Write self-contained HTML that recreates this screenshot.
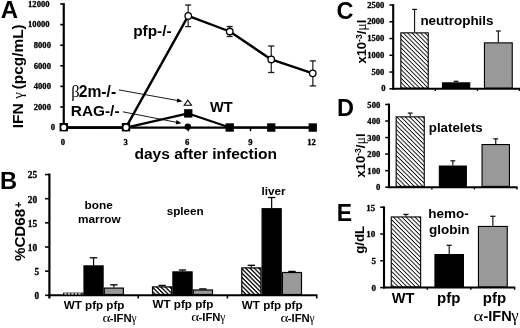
<!DOCTYPE html>
<html><head><meta charset="utf-8"><title>figure</title>
<style>
html,body{margin:0;padding:0;background:#fff;}
body{width:520px;height:328px;overflow:hidden;font-family:"Liberation Sans",sans-serif;}
svg{display:block;filter:blur(0.42px);}
</style></head><body>
<svg width="520" height="328" viewBox="0 0 520 328">
<defs>
<pattern id="hatch" patternUnits="userSpaceOnUse" width="3.05" height="3.05" patternTransform="rotate(45)">
<rect width="3.05" height="3.05" fill="#fff"/><rect width="3.05" height="0.88" fill="#000"/>
</pattern>
<pattern id="hatchB" patternUnits="userSpaceOnUse" width="3.05" height="3.05" patternTransform="rotate(45)">
<rect width="3.05" height="3.05" fill="#fff"/><rect width="3.05" height="1.3" fill="#000"/>
</pattern>
</defs>
<rect width="520" height="328" fill="#fff"/>

<text x="0.8" y="18.3" font-size="24" font-family="Liberation Sans, sans-serif" font-weight="bold" text-anchor="start" >A</text>
<line x1="63.75" y1="3.2" x2="63.75" y2="128.6" stroke="#000" stroke-width="2.2"/>
<line x1="62.65" y1="127.6" x2="316" y2="127.6" stroke="#000" stroke-width="2.1"/>
<line x1="60.25" y1="127.6" x2="63.75" y2="127.6" stroke="#000" stroke-width="1.6"/>
<text x="50.87" y="130.31" font-size="8.6" font-family="Liberation Serif, serif" font-weight="bold" textLength="4.30" lengthAdjust="spacingAndGlyphs" stroke="#000" stroke-width="0.3">0</text>
<line x1="60.25" y1="107.0" x2="63.75" y2="107.0" stroke="#000" stroke-width="1.6"/>
<text x="33.77" y="109.71" font-size="8.6" font-family="Liberation Serif, serif" font-weight="bold" textLength="17.20" lengthAdjust="spacingAndGlyphs" stroke="#000" stroke-width="0.3">2000</text>
<line x1="60.25" y1="86.39999999999999" x2="63.75" y2="86.39999999999999" stroke="#000" stroke-width="1.6"/>
<text x="33.77" y="89.11" font-size="8.6" font-family="Liberation Serif, serif" font-weight="bold" textLength="17.20" lengthAdjust="spacingAndGlyphs" stroke="#000" stroke-width="0.3">4000</text>
<line x1="60.25" y1="65.79999999999998" x2="63.75" y2="65.79999999999998" stroke="#000" stroke-width="1.6"/>
<text x="33.77" y="68.51" font-size="8.6" font-family="Liberation Serif, serif" font-weight="bold" textLength="17.20" lengthAdjust="spacingAndGlyphs" stroke="#000" stroke-width="0.3">6000</text>
<line x1="60.25" y1="45.19999999999999" x2="63.75" y2="45.19999999999999" stroke="#000" stroke-width="1.6"/>
<text x="33.77" y="47.91" font-size="8.6" font-family="Liberation Serif, serif" font-weight="bold" textLength="17.20" lengthAdjust="spacingAndGlyphs" stroke="#000" stroke-width="0.3">8000</text>
<line x1="60.25" y1="24.599999999999994" x2="63.75" y2="24.599999999999994" stroke="#000" stroke-width="1.6"/>
<text x="28.07" y="27.31" font-size="8.6" font-family="Liberation Serif, serif" font-weight="bold" textLength="21.50" lengthAdjust="spacingAndGlyphs" stroke="#000" stroke-width="0.3">10000</text>
<line x1="60.25" y1="3.999999999999986" x2="63.75" y2="3.999999999999986" stroke="#000" stroke-width="1.6"/>
<text x="28.07" y="6.71" font-size="8.6" font-family="Liberation Serif, serif" font-weight="bold" textLength="21.50" lengthAdjust="spacingAndGlyphs" stroke="#000" stroke-width="0.3">12000</text>
<line x1="126.0" y1="127.6" x2="126.0" y2="131.2" stroke="#000" stroke-width="1.5"/>
<line x1="188.25" y1="127.6" x2="188.25" y2="131.2" stroke="#000" stroke-width="1.5"/>
<line x1="250.5" y1="127.6" x2="250.5" y2="131.2" stroke="#000" stroke-width="1.5"/>
<line x1="312.75" y1="127.6" x2="312.75" y2="131.2" stroke="#000" stroke-width="1.5"/>
<text x="60.85" y="144.71" font-size="8.6" font-family="Liberation Serif, serif" font-weight="bold" textLength="4.30" lengthAdjust="spacingAndGlyphs" stroke="#000" stroke-width="0.3">0</text>
<text x="123.45" y="144.71" font-size="8.6" font-family="Liberation Serif, serif" font-weight="bold" textLength="4.30" lengthAdjust="spacingAndGlyphs" stroke="#000" stroke-width="0.3">3</text>
<text x="185.05" y="144.71" font-size="8.6" font-family="Liberation Serif, serif" font-weight="bold" textLength="4.30" lengthAdjust="spacingAndGlyphs" stroke="#000" stroke-width="0.3">6</text>
<text x="248.25" y="144.71" font-size="8.6" font-family="Liberation Serif, serif" font-weight="bold" textLength="4.30" lengthAdjust="spacingAndGlyphs" stroke="#000" stroke-width="0.3">9</text>
<text x="307.30" y="144.71" font-size="8.6" font-family="Liberation Serif, serif" font-weight="bold" textLength="8.60" lengthAdjust="spacingAndGlyphs" stroke="#000" stroke-width="0.3">12</text>
<text x="134.4" y="158.75" font-size="15.55" font-family="Liberation Sans, sans-serif" font-weight="bold" text-anchor="start" >days after infection</text>
<text transform="translate(23.4,128.3) rotate(-90)" font-size="15.5" font-family="Liberation Sans, sans-serif" font-weight="bold" text-anchor="start">IFN</text>
<text transform="translate(23.4,98.7) rotate(-90)" font-size="15" font-family="Liberation Serif, serif" font-weight="normal" text-anchor="start">&#947;</text>
<text transform="translate(23.4,24.3) rotate(-90)" font-size="15.4" font-family="Liberation Sans, sans-serif" font-weight="bold" text-anchor="end">(pcg/mL)</text>
<polyline fill="none" stroke="#000" stroke-width="2.4" stroke-linejoin="round" points="63.8,127.6 126.0,127.4 188.2,15.9 229.8,31.5 271.2,59.4 312.8,73.3"/>
<polyline fill="none" stroke="#000" stroke-width="2.15" stroke-linejoin="round" points="63.8,127.6 126.0,127.6 188.2,113.4 229.8,127.5 271.2,127.5 312.8,127.5"/>
<line x1="188.15" y1="5.0" x2="188.15" y2="26.6" stroke="#1a1a1a" stroke-width="1.2"/>
<line x1="185.15" y1="5.0" x2="191.15" y2="5.0" stroke="#1a1a1a" stroke-width="1.3"/>
<line x1="185.15" y1="26.6" x2="191.15" y2="26.6" stroke="#1a1a1a" stroke-width="1.3"/>
<line x1="229.65" y1="26.5" x2="229.65" y2="36.5" stroke="#1a1a1a" stroke-width="1.2"/>
<line x1="226.65" y1="26.5" x2="232.65" y2="26.5" stroke="#1a1a1a" stroke-width="1.3"/>
<line x1="226.65" y1="36.5" x2="232.65" y2="36.5" stroke="#1a1a1a" stroke-width="1.3"/>
<line x1="271.25" y1="46.0" x2="271.25" y2="72.5" stroke="#1a1a1a" stroke-width="1.2"/>
<line x1="268.15" y1="46.0" x2="274.35" y2="46.0" stroke="#1a1a1a" stroke-width="1.3"/>
<line x1="268.15" y1="72.5" x2="274.35" y2="72.5" stroke="#1a1a1a" stroke-width="1.3"/>
<line x1="312.85" y1="60.9" x2="312.85" y2="85.9" stroke="#1a1a1a" stroke-width="1.2"/>
<line x1="309.75" y1="60.9" x2="315.95000000000005" y2="60.9" stroke="#1a1a1a" stroke-width="1.3"/>
<line x1="309.75" y1="85.9" x2="315.95000000000005" y2="85.9" stroke="#1a1a1a" stroke-width="1.3"/>
<rect x="184.10" y="109.20" width="8.3" height="8.4" fill="#000"/>
<rect x="225.60" y="123.30" width="8.3" height="8.4" fill="#000"/>
<rect x="267.10" y="123.35" width="8.3" height="8.4" fill="#000"/>
<rect x="308.60" y="123.35" width="8.3" height="8.4" fill="#000"/>
<rect x="59.55" y="123.00" width="8.4" height="8.4" fill="#000"/>
<circle cx="63.75" cy="127.4" r="2.55" fill="#fff"/>
<rect x="121.80" y="123.00" width="8.4" height="8.4" fill="#000"/>
<circle cx="126.00" cy="127.4" r="2.55" fill="#fff"/>
<circle cx="188.25" cy="15.90" r="3.25" fill="#fff" stroke="#000" stroke-width="1.3"/>
<circle cx="229.75" cy="31.50" r="3.25" fill="#fff" stroke="#000" stroke-width="1.3"/>
<circle cx="271.25" cy="59.40" r="3.25" fill="#fff" stroke="#000" stroke-width="1.3"/>
<circle cx="312.75" cy="73.30" r="3.25" fill="#fff" stroke="#000" stroke-width="1.3"/>
<path d="M184.2,105.2 L191.5,105.2 L187.8,100.2 Z" fill="#fff" stroke="#000" stroke-width="1.1" stroke-linejoin="miter"/>
<circle cx="187.8" cy="126.7" r="3.2" fill="#000"/>
<line x1="118.8" y1="89.9" x2="178.07" y2="100.6" stroke="#000" stroke-width="0.9"/>
<path d="M182.50,101.40 L176.70,102.59 L177.48,98.26 Z" fill="#000"/>
<line x1="122.8" y1="111.8" x2="177.08" y2="122.43" stroke="#000" stroke-width="0.9"/>
<path d="M181.50,123.30 L175.68,124.40 L176.53,120.08 Z" fill="#000"/>
<text x="133.2" y="35.8" font-size="15.4" font-family="Liberation Sans, sans-serif" font-weight="bold" text-anchor="start" >pfp-/-</text>
<text x="71.3" y="97.4" font-size="16.5" font-family="Liberation Serif, serif" font-weight="normal" text-anchor="start" >&#946;</text>
<text x="78.7" y="97.4" font-size="15.7" font-family="Liberation Sans, sans-serif" font-weight="bold" text-anchor="start" >2m-/-</text>
<text x="70.8" y="115.7" font-size="15.4" font-family="Liberation Sans, sans-serif" font-weight="bold" text-anchor="start" >RAG-/-</text>
<text x="210" y="111.8" font-size="14.6" font-family="Liberation Sans, sans-serif" font-weight="bold" text-anchor="start" >WT</text>
<text x="0.0" y="189.0" font-size="23.7" font-family="Liberation Sans, sans-serif" font-weight="bold" text-anchor="start" >B</text>
<line x1="49.4" y1="173.6" x2="49.4" y2="298.5" stroke="#000" stroke-width="2.2"/>
<line x1="48.4" y1="295.3" x2="317.4" y2="295.3" stroke="#000" stroke-width="2.1"/>
<line x1="45.1" y1="295.3" x2="49.4" y2="295.3" stroke="#000" stroke-width="1.6"/>
<text x="34.44" y="299.24" font-size="9.3" font-family="Liberation Serif, serif" font-weight="bold" textLength="4.65" lengthAdjust="spacingAndGlyphs" stroke="#000" stroke-width="0.3">0</text>
<line x1="45.1" y1="271.15000000000003" x2="49.4" y2="271.15000000000003" stroke="#000" stroke-width="1.6"/>
<text x="34.44" y="275.09" font-size="9.3" font-family="Liberation Serif, serif" font-weight="bold" textLength="4.65" lengthAdjust="spacingAndGlyphs" stroke="#000" stroke-width="0.3">5</text>
<line x1="45.1" y1="247.0" x2="49.4" y2="247.0" stroke="#000" stroke-width="1.6"/>
<text x="27.89" y="250.94" font-size="9.3" font-family="Liberation Serif, serif" font-weight="bold" textLength="9.30" lengthAdjust="spacingAndGlyphs" stroke="#000" stroke-width="0.3">10</text>
<line x1="45.1" y1="222.85000000000002" x2="49.4" y2="222.85000000000002" stroke="#000" stroke-width="1.6"/>
<text x="27.89" y="226.79" font-size="9.3" font-family="Liberation Serif, serif" font-weight="bold" textLength="9.30" lengthAdjust="spacingAndGlyphs" stroke="#000" stroke-width="0.3">15</text>
<line x1="45.1" y1="198.70000000000002" x2="49.4" y2="198.70000000000002" stroke="#000" stroke-width="1.6"/>
<text x="27.89" y="202.64" font-size="9.3" font-family="Liberation Serif, serif" font-weight="bold" textLength="9.30" lengthAdjust="spacingAndGlyphs" stroke="#000" stroke-width="0.3">20</text>
<line x1="45.1" y1="174.55" x2="49.4" y2="174.55" stroke="#000" stroke-width="1.6"/>
<text x="27.89" y="178.49" font-size="9.3" font-family="Liberation Serif, serif" font-weight="bold" textLength="9.30" lengthAdjust="spacingAndGlyphs" stroke="#000" stroke-width="0.3">25</text>
<line x1="138.2" y1="295.3" x2="138.2" y2="298.5" stroke="#000" stroke-width="1.5"/>
<line x1="227.4" y1="295.3" x2="227.4" y2="298.5" stroke="#000" stroke-width="1.5"/>
<line x1="316.8" y1="295.3" x2="316.8" y2="298.5" stroke="#000" stroke-width="1.5"/>
<text transform="translate(24.7,261.1) rotate(-90)" font-size="15.2" font-family="Liberation Sans, sans-serif" font-weight="bold" text-anchor="start">%CD68<tspan dx="0.8" dy="-3" font-size="11">+</tspan></text>
<rect x="63.10" y="292.65" width="20.30" height="2.2" fill="#000"/>
<line x1="64.30" y1="293.85" x2="82.40" y2="293.85" stroke="#fff" stroke-width="1.1" stroke-dasharray="2.4 1.1"/>
<line x1="93.55000000000001" y1="257.8" x2="93.55000000000001" y2="265.3" stroke="#000" stroke-width="1.2"/>
<line x1="89.85000000000001" y1="257.8" x2="97.25000000000001" y2="257.8" stroke="#000" stroke-width="1.3"/>
<rect x="84.00" y="265.90" width="19.10" height="28.60" fill="#000" stroke="#000" stroke-width="1.2"/>
<line x1="113.85" y1="284.8" x2="113.85" y2="287.5" stroke="#000" stroke-width="1.2"/>
<line x1="110.14999999999999" y1="284.8" x2="117.55" y2="284.8" stroke="#000" stroke-width="1.3"/>
<rect x="104.30" y="288.10" width="19.10" height="6.40" fill="#999" stroke="#000" stroke-width="1.2"/>
<text x="63.7" y="308.7" font-size="11.65" font-family="Liberation Sans, sans-serif" font-weight="bold" text-anchor="start" >WT pfp pfp</text>
<text transform="translate(102.40,321.8) scale(1.22,1)" font-size="12.5" font-family="Liberation Serif, serif" font-weight="normal">&#945;</text>
<text x="109.7" y="321.8" font-size="11.3" font-family="Liberation Sans, sans-serif" font-weight="bold" text-anchor="start" >-IFN</text>
<text x="131.4" y="321.8" font-size="11.5" font-family="Liberation Serif, serif" font-weight="normal" text-anchor="start" >&#947;</text>
<line x1="162.10000000000002" y1="285.4" x2="162.10000000000002" y2="286.3" stroke="#000" stroke-width="1.2"/>
<line x1="158.40000000000003" y1="285.4" x2="165.8" y2="285.4" stroke="#000" stroke-width="1.3"/>
<rect x="152.50" y="286.90" width="19.20" height="7.60" fill="url(#hatchB)" stroke="#000" stroke-width="1.2"/>
<line x1="182.5" y1="270.0" x2="182.5" y2="271.3" stroke="#000" stroke-width="1.2"/>
<line x1="178.8" y1="270.0" x2="186.2" y2="270.0" stroke="#000" stroke-width="1.3"/>
<rect x="172.90" y="271.90" width="19.20" height="22.60" fill="#000" stroke="#000" stroke-width="1.2"/>
<line x1="202.89999999999998" y1="288.9" x2="202.89999999999998" y2="289.4" stroke="#000" stroke-width="1.2"/>
<line x1="199.2" y1="288.9" x2="206.59999999999997" y2="288.9" stroke="#000" stroke-width="1.3"/>
<rect x="193.30" y="290.00" width="19.20" height="4.50" fill="#999" stroke="#000" stroke-width="1.2"/>
<text x="152.5" y="307.6" font-size="11.65" font-family="Liberation Sans, sans-serif" font-weight="bold" text-anchor="start" >WT pfp pfp</text>
<text transform="translate(191.20,321.3) scale(1.22,1)" font-size="12.5" font-family="Liberation Serif, serif" font-weight="normal">&#945;</text>
<text x="198.5" y="321.3" font-size="11.3" font-family="Liberation Sans, sans-serif" font-weight="bold" text-anchor="start" >-IFN</text>
<text x="220.2" y="321.3" font-size="11.5" font-family="Liberation Serif, serif" font-weight="normal" text-anchor="start" >&#947;</text>
<line x1="251.35" y1="265.3" x2="251.35" y2="267.3" stroke="#000" stroke-width="1.2"/>
<line x1="247.65" y1="265.3" x2="255.04999999999998" y2="265.3" stroke="#000" stroke-width="1.3"/>
<rect x="241.80" y="267.90" width="19.10" height="26.60" fill="url(#hatchB)" stroke="#000" stroke-width="1.2"/>
<line x1="271.65" y1="197.5" x2="271.65" y2="208.1" stroke="#000" stroke-width="1.2"/>
<line x1="267.95" y1="197.5" x2="275.34999999999997" y2="197.5" stroke="#000" stroke-width="1.3"/>
<rect x="262.10" y="208.70" width="19.10" height="85.80" fill="#000" stroke="#000" stroke-width="1.2"/>
<line x1="291.95000000000005" y1="271.4" x2="291.95000000000005" y2="271.9" stroke="#000" stroke-width="1.2"/>
<line x1="288.25000000000006" y1="271.4" x2="295.65000000000003" y2="271.4" stroke="#000" stroke-width="1.3"/>
<rect x="282.40" y="272.50" width="19.10" height="22.00" fill="#999" stroke="#000" stroke-width="1.2"/>
<text x="241.79999999999998" y="308.5" font-size="11.65" font-family="Liberation Sans, sans-serif" font-weight="bold" text-anchor="start" >WT pfp pfp</text>
<text transform="translate(280.50,321.6) scale(1.22,1)" font-size="12.5" font-family="Liberation Serif, serif" font-weight="normal">&#945;</text>
<text x="287.8" y="321.6" font-size="11.3" font-family="Liberation Sans, sans-serif" font-weight="bold" text-anchor="start" >-IFN</text>
<text x="309.5" y="321.6" font-size="11.5" font-family="Liberation Serif, serif" font-weight="normal" text-anchor="start" >&#947;</text>
<text x="98.7" y="209.0" font-size="11.8" font-family="Liberation Sans, sans-serif" font-weight="bold" text-anchor="middle" >bone</text>
<text x="99.3" y="222.75" font-size="11.8" font-family="Liberation Sans, sans-serif" font-weight="bold" text-anchor="middle" >marrow</text>
<text x="185.2" y="215.0" font-size="11.7" font-family="Liberation Sans, sans-serif" font-weight="bold" text-anchor="middle" >spleen</text>
<text x="273.5" y="194.6" font-size="11.7" font-family="Liberation Sans, sans-serif" font-weight="bold" text-anchor="middle" >liver</text>
<text x="336.4" y="19.1" font-size="23.5" font-family="Liberation Sans, sans-serif" font-weight="bold" text-anchor="start" >C</text>
<line x1="393.2" y1="4.2" x2="393.2" y2="89.7" stroke="#000" stroke-width="2.1"/>
<line x1="392.3" y1="88.8" x2="520" y2="88.8" stroke="#000" stroke-width="2.0"/>
<line x1="389.4" y1="88.8" x2="393.2" y2="88.8" stroke="#000" stroke-width="1.5"/>
<text x="381.37" y="91.41" font-size="8.6" font-family="Liberation Serif, serif" font-weight="bold" textLength="4.30" lengthAdjust="spacingAndGlyphs" stroke="#000" stroke-width="0.3">0</text>
<line x1="389.4" y1="72.03999999999999" x2="393.2" y2="72.03999999999999" stroke="#000" stroke-width="1.5"/>
<text x="371.47" y="74.65" font-size="8.6" font-family="Liberation Serif, serif" font-weight="bold" textLength="12.90" lengthAdjust="spacingAndGlyphs" stroke="#000" stroke-width="0.3">500</text>
<line x1="389.4" y1="55.279999999999994" x2="393.2" y2="55.279999999999994" stroke="#000" stroke-width="1.5"/>
<text x="367.17" y="57.89" font-size="8.6" font-family="Liberation Serif, serif" font-weight="bold" textLength="17.20" lengthAdjust="spacingAndGlyphs" stroke="#000" stroke-width="0.3">1000</text>
<line x1="389.4" y1="38.519999999999996" x2="393.2" y2="38.519999999999996" stroke="#000" stroke-width="1.5"/>
<text x="367.17" y="41.13" font-size="8.6" font-family="Liberation Serif, serif" font-weight="bold" textLength="17.20" lengthAdjust="spacingAndGlyphs" stroke="#000" stroke-width="0.3">1500</text>
<line x1="389.4" y1="21.75999999999999" x2="393.2" y2="21.75999999999999" stroke="#000" stroke-width="1.5"/>
<text x="367.17" y="24.37" font-size="8.6" font-family="Liberation Serif, serif" font-weight="bold" textLength="17.20" lengthAdjust="spacingAndGlyphs" stroke="#000" stroke-width="0.3">2000</text>
<line x1="389.4" y1="5.0" x2="393.2" y2="5.0" stroke="#000" stroke-width="1.5"/>
<text x="367.17" y="7.61" font-size="8.6" font-family="Liberation Serif, serif" font-weight="bold" textLength="17.20" lengthAdjust="spacingAndGlyphs" stroke="#000" stroke-width="0.3">2500</text>
<line x1="435.3" y1="88.8" x2="435.3" y2="90.9" stroke="#000" stroke-width="1.4"/>
<line x1="477.4" y1="88.8" x2="477.4" y2="90.9" stroke="#000" stroke-width="1.4"/>
<line x1="519.4" y1="88.8" x2="519.4" y2="90.9" stroke="#000" stroke-width="1.4"/>
<line x1="414.55" y1="9.4" x2="414.55" y2="32.3" stroke="#1a1a1a" stroke-width="1.2"/>
<line x1="412.15000000000003" y1="9.4" x2="416.95" y2="9.4" stroke="#1a1a1a" stroke-width="1.3"/>
<rect x="400.85" y="32.85" width="27.40" height="55.15" fill="url(#hatch)" stroke="#000" stroke-width="1.1"/>
<line x1="456.1" y1="81.3" x2="456.1" y2="82.3" stroke="#1a1a1a" stroke-width="1.2"/>
<line x1="453.70000000000005" y1="81.3" x2="458.5" y2="81.3" stroke="#1a1a1a" stroke-width="1.3"/>
<rect x="442.45" y="82.85" width="27.30" height="5.15" fill="#000" stroke="#000" stroke-width="1.1"/>
<line x1="498.34999999999997" y1="31.0" x2="498.34999999999997" y2="42.3" stroke="#1a1a1a" stroke-width="1.2"/>
<line x1="495.95" y1="31.0" x2="500.74999999999994" y2="31.0" stroke="#1a1a1a" stroke-width="1.3"/>
<rect x="484.45" y="42.85" width="27.80" height="45.15" fill="#999" stroke="#000" stroke-width="1.1"/>
<text x="420.4" y="25.0" font-size="13.45" font-family="Liberation Sans, sans-serif" font-weight="bold" text-anchor="start" >neutrophils</text>
<text transform="translate(366.1,63.6) rotate(-90)" font-size="13.0" font-family="Liberation Sans, sans-serif" font-weight="bold" text-anchor="start">x10<tspan dy="-4.3" font-size="8.5">-3</tspan><tspan dy="4.3">/</tspan><tspan font-family="Liberation Serif, serif" font-weight="normal" font-size="14.0">&#956;</tspan>l</text>
<text x="336.9" y="115.8" font-size="23.5" font-family="Liberation Sans, sans-serif" font-weight="bold" text-anchor="start" >D</text>
<line x1="389.0" y1="103.6" x2="389.0" y2="188.1" stroke="#000" stroke-width="2.1"/>
<line x1="388.1" y1="187.2" x2="517.6" y2="187.2" stroke="#000" stroke-width="2.0"/>
<line x1="385.2" y1="187.2" x2="389.0" y2="187.2" stroke="#000" stroke-width="1.5"/>
<text x="375.97" y="190.31" font-size="8.6" font-family="Liberation Serif, serif" font-weight="bold" textLength="4.30" lengthAdjust="spacingAndGlyphs" stroke="#000" stroke-width="0.3">0</text>
<line x1="385.2" y1="170.64999999999998" x2="389.0" y2="170.64999999999998" stroke="#000" stroke-width="1.5"/>
<text x="367.37" y="173.76" font-size="8.6" font-family="Liberation Serif, serif" font-weight="bold" textLength="12.90" lengthAdjust="spacingAndGlyphs" stroke="#000" stroke-width="0.3">100</text>
<line x1="385.2" y1="154.1" x2="389.0" y2="154.1" stroke="#000" stroke-width="1.5"/>
<text x="367.37" y="157.21" font-size="8.6" font-family="Liberation Serif, serif" font-weight="bold" textLength="12.90" lengthAdjust="spacingAndGlyphs" stroke="#000" stroke-width="0.3">200</text>
<line x1="385.2" y1="137.54999999999998" x2="389.0" y2="137.54999999999998" stroke="#000" stroke-width="1.5"/>
<text x="367.37" y="140.66" font-size="8.6" font-family="Liberation Serif, serif" font-weight="bold" textLength="12.90" lengthAdjust="spacingAndGlyphs" stroke="#000" stroke-width="0.3">300</text>
<line x1="385.2" y1="120.99999999999999" x2="389.0" y2="120.99999999999999" stroke="#000" stroke-width="1.5"/>
<text x="367.37" y="124.11" font-size="8.6" font-family="Liberation Serif, serif" font-weight="bold" textLength="12.90" lengthAdjust="spacingAndGlyphs" stroke="#000" stroke-width="0.3">400</text>
<line x1="385.2" y1="104.44999999999999" x2="389.0" y2="104.44999999999999" stroke="#000" stroke-width="1.5"/>
<text x="367.37" y="107.56" font-size="8.6" font-family="Liberation Serif, serif" font-weight="bold" textLength="12.90" lengthAdjust="spacingAndGlyphs" stroke="#000" stroke-width="0.3">500</text>
<line x1="431.9" y1="187.2" x2="431.9" y2="189.4" stroke="#000" stroke-width="1.4"/>
<line x1="474.4" y1="187.2" x2="474.4" y2="189.4" stroke="#000" stroke-width="1.4"/>
<line x1="516.9" y1="187.2" x2="516.9" y2="189.4" stroke="#000" stroke-width="1.4"/>
<line x1="410.20000000000005" y1="113.1" x2="410.20000000000005" y2="116.3" stroke="#1a1a1a" stroke-width="1.2"/>
<line x1="407.80000000000007" y1="113.1" x2="412.6" y2="113.1" stroke="#1a1a1a" stroke-width="1.3"/>
<rect x="396.15" y="116.85" width="28.10" height="69.55" fill="url(#hatch)" stroke="#000" stroke-width="1.1"/>
<line x1="452.85" y1="160.8" x2="452.85" y2="165.5" stroke="#1a1a1a" stroke-width="1.2"/>
<line x1="450.45000000000005" y1="160.8" x2="455.25" y2="160.8" stroke="#1a1a1a" stroke-width="1.3"/>
<rect x="439.35" y="166.05" width="27.00" height="20.35" fill="#000" stroke="#000" stroke-width="1.1"/>
<line x1="495.75" y1="138.8" x2="495.75" y2="144.0" stroke="#1a1a1a" stroke-width="1.2"/>
<line x1="493.35" y1="138.8" x2="498.15" y2="138.8" stroke="#1a1a1a" stroke-width="1.3"/>
<rect x="482.05" y="144.55" width="27.40" height="41.85" fill="#999" stroke="#000" stroke-width="1.1"/>
<text x="428.8" y="131.9" font-size="13.3" font-family="Liberation Sans, sans-serif" font-weight="bold" text-anchor="start" >platelets</text>
<text transform="translate(364.9,177.5) rotate(-90)" font-size="13.0" font-family="Liberation Sans, sans-serif" font-weight="bold" text-anchor="start">x10<tspan dy="-4.3" font-size="8.5">-3</tspan><tspan dy="4.3">/</tspan><tspan font-family="Liberation Serif, serif" font-weight="normal" font-size="14.0">&#956;</tspan>l</text>
<text x="336.7" y="220.8" font-size="23" font-family="Liberation Sans, sans-serif" font-weight="bold" text-anchor="start" >E</text>
<line x1="384.0" y1="206.4" x2="384.0" y2="288.5" stroke="#000" stroke-width="2.1"/>
<line x1="383.1" y1="287.6" x2="515.3" y2="287.6" stroke="#000" stroke-width="2.0"/>
<line x1="380.2" y1="287.6" x2="384.0" y2="287.6" stroke="#000" stroke-width="1.5"/>
<text x="371.38" y="290.94" font-size="9.0" font-family="Liberation Serif, serif" font-weight="bold" textLength="4.50" lengthAdjust="spacingAndGlyphs" stroke="#000" stroke-width="0.3">0</text>
<line x1="380.2" y1="260.8" x2="384.0" y2="260.8" stroke="#000" stroke-width="1.5"/>
<text x="371.38" y="264.14" font-size="9.0" font-family="Liberation Serif, serif" font-weight="bold" textLength="4.50" lengthAdjust="spacingAndGlyphs" stroke="#000" stroke-width="0.3">5</text>
<line x1="380.2" y1="234.00000000000003" x2="384.0" y2="234.00000000000003" stroke="#000" stroke-width="1.5"/>
<text x="366.28" y="237.34" font-size="9.0" font-family="Liberation Serif, serif" font-weight="bold" textLength="9.00" lengthAdjust="spacingAndGlyphs" stroke="#000" stroke-width="0.3">10</text>
<line x1="380.2" y1="207.20000000000002" x2="384.0" y2="207.20000000000002" stroke="#000" stroke-width="1.5"/>
<text x="366.28" y="210.54" font-size="9.0" font-family="Liberation Serif, serif" font-weight="bold" textLength="9.00" lengthAdjust="spacingAndGlyphs" stroke="#000" stroke-width="0.3">15</text>
<line x1="427.3" y1="287.6" x2="427.3" y2="289.8" stroke="#000" stroke-width="1.4"/>
<line x1="470.8" y1="287.6" x2="470.8" y2="289.8" stroke="#000" stroke-width="1.4"/>
<line x1="514.6" y1="287.6" x2="514.6" y2="289.8" stroke="#000" stroke-width="1.4"/>
<line x1="405.95" y1="214.4" x2="405.95" y2="216.4" stroke="#1a1a1a" stroke-width="1.2"/>
<line x1="403.34999999999997" y1="214.4" x2="408.55" y2="214.4" stroke="#1a1a1a" stroke-width="1.3"/>
<rect x="391.25" y="216.95" width="29.40" height="69.85" fill="url(#hatch)" stroke="#000" stroke-width="1.1"/>
<line x1="449.2" y1="245.3" x2="449.2" y2="254.0" stroke="#1a1a1a" stroke-width="1.2"/>
<line x1="446.59999999999997" y1="245.3" x2="451.8" y2="245.3" stroke="#1a1a1a" stroke-width="1.3"/>
<rect x="434.95" y="254.55" width="28.50" height="32.25" fill="#000" stroke="#000" stroke-width="1.1"/>
<line x1="492.85" y1="216.3" x2="492.85" y2="225.9" stroke="#1a1a1a" stroke-width="1.2"/>
<line x1="490.25" y1="216.3" x2="495.45000000000005" y2="216.3" stroke="#1a1a1a" stroke-width="1.3"/>
<rect x="478.45" y="226.45" width="28.80" height="60.35" fill="#999" stroke="#000" stroke-width="1.1"/>
<text x="428.3" y="217.5" font-size="13.5" font-family="Liberation Sans, sans-serif" font-weight="bold" text-anchor="start" >hemo-</text>
<text x="428.9" y="234.0" font-size="13.5" font-family="Liberation Sans, sans-serif" font-weight="bold" text-anchor="start" >globin</text>
<text transform="translate(363.9,253.8) rotate(-90)" font-size="13.2" font-family="Liberation Sans, sans-serif" font-weight="bold" text-anchor="start">g/dL</text>
<text x="403.1" y="303.2" font-size="14.6" font-family="Liberation Sans, sans-serif" font-weight="bold" text-anchor="middle" >WT</text>
<text x="448.7" y="303.2" font-size="15.0" font-family="Liberation Sans, sans-serif" font-weight="bold" text-anchor="middle" >pfp</text>
<text x="494.5" y="303.2" font-size="15.0" font-family="Liberation Sans, sans-serif" font-weight="bold" text-anchor="middle" >pfp</text>
<text transform="translate(473.6,321.2) scale(1.25,1)" font-size="15" font-family="Liberation Serif, serif" font-weight="normal">&#945;</text>
<text x="483.5" y="321.2" font-size="14.5" font-family="Liberation Sans, sans-serif" font-weight="bold" text-anchor="start" >-IFN</text>
<text x="511.2" y="321.2" font-size="16.5" font-family="Liberation Serif, serif" font-weight="normal" text-anchor="start" >&#947;</text>
</svg></body></html>
